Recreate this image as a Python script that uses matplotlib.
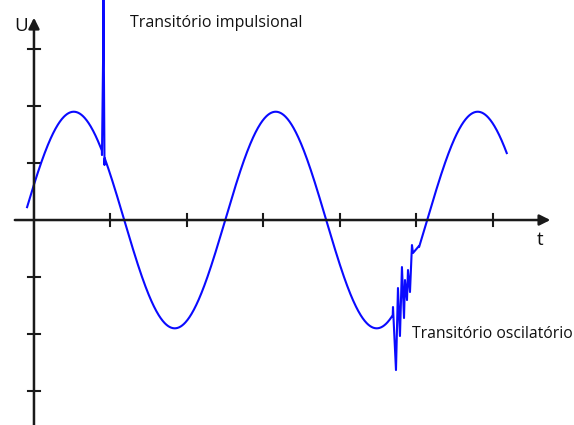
import numpy as np
import matplotlib
matplotlib.use('Agg')
import matplotlib.pyplot as plt

# sine (units = one tick step)
amplitude = 1.9
period = 2.64
phase0 = -0.14          # ascending zero crossing
t_start, t_end = -0.09, 6.18

# impulsive transient (t, U)
imp_t = [0.889, 0.905, 0.908, 0.922]
imp_u = [1.14, 3.0, 3.95, 0.965]

# oscillatory transient (t, U)
osc_t = [4.693, 4.732, 4.758, 4.784, 4.810, 4.837, 4.850, 4.876, 4.889, 4.915, 4.941, 4.954, 5.03]
osc_u = [-1.526, -2.632, -1.193, -2.035, -0.825, -1.719, -1.053, -1.404, -0.877, -1.263, -0.439, -0.579, -0.46]

x_ticks = [1, 2, 3, 4, 5, 6]
y_ticks = [-3, -2, -1, 1, 2, 3]

t = np.linspace(t_start, t_end, 1200)
u = amplitude * np.sin(2 * np.pi * (t - phase0) / period)

m1 = t < imp_t[0]
m2 = (t > imp_t[-1]) & (t < osc_t[0])
m3 = t > osc_t[-1]
tt = np.concatenate([t[m1], imp_t, t[m2], osc_t, t[m3]])
uu = np.concatenate([u[m1], imp_u, u[m2], osc_u, u[m3]])

fig = plt.figure(figsize=(5.74, 4.25), dpi=100)
ax = fig.add_axes([0, 0, 1, 1])
ax.set_xlim(-0.444, 7.059)
ax.set_ylim(-3.596, 3.860)
ax.axis('off')

axis_col = '#1a1a1a'
ax.annotate('', xy=(6.75, 0), xytext=(-0.25, 0),
            arrowprops=dict(arrowstyle='-|>', lw=1.8, color=axis_col, mutation_scale=16,
                            shrinkA=0, shrinkB=0))
ax.annotate('', xy=(0, 3.55), xytext=(0, -3.7),
            arrowprops=dict(arrowstyle='-|>', lw=1.8, color=axis_col, mutation_scale=16,
                            shrinkA=0, shrinkB=0))

for xt in x_ticks:
    ax.plot([xt, xt], [-0.1, 0.1], color=axis_col, lw=1.5)
for yt in y_ticks:
    ax.plot([-0.08, 0.08], [yt, yt], color=axis_col, lw=1.5)

ax.plot(tt, uu, color='#0a0aff', lw=1.5)

font = 'Open Sans'
ax.text(-0.261, 3.316, 'U', fontsize=13.5, family=font, va='baseline', ha='left', color='#111111')
ax.text(6.614, -0.44, 't', fontsize=13.5, family=font, va='baseline', ha='center', color='#111111')
ax.text(1.255, 3.386, 'Transitório impulsional', fontsize=11.5, family=font, va='baseline', ha='left', color='#111111')
ax.text(4.941, -2.07, 'Transitório oscilatório', fontsize=11.3, family=font, va='baseline', ha='left', color='#111111')

fig.savefig('out.png', dpi=100)
